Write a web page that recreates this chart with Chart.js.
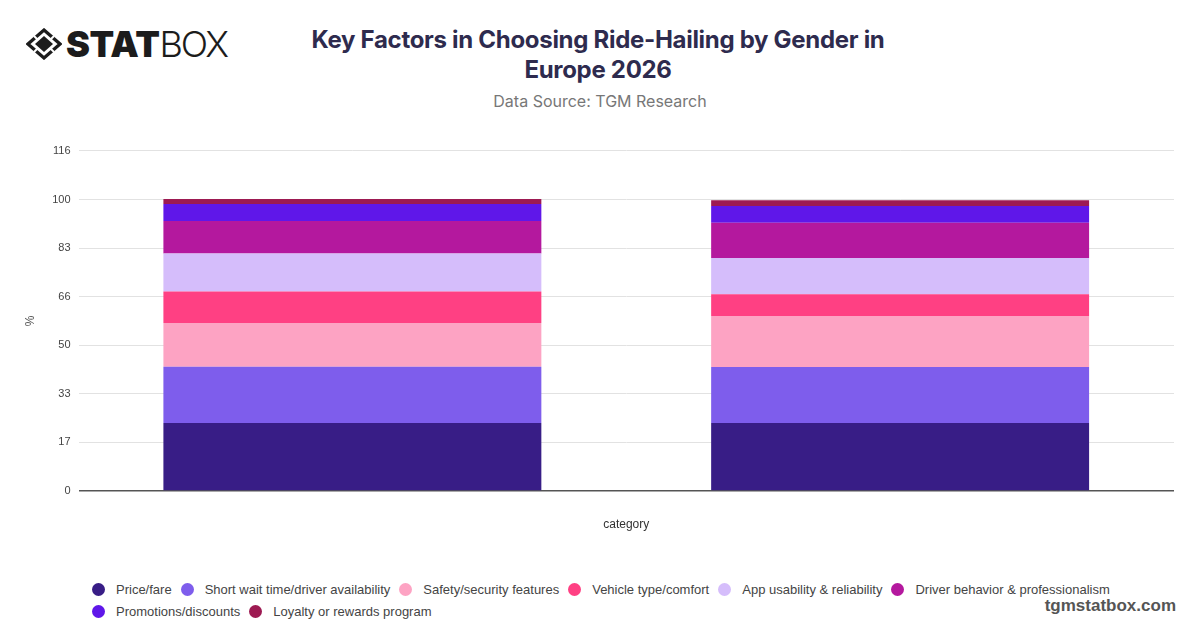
<!DOCTYPE html>
<html>
<head>
<meta charset="utf-8">
<script src="https://cdn.jsdelivr.net/npm/chart.js@4"></script>
<style>
  html, body { margin: 0; padding: 0; background: #fff; }
  body { width: 1200px; height: 628px; position: relative; overflow: hidden; font-family: 'Liberation Sans', Arial, sans-serif; }
  #logo { position: absolute; left: 26px; top: 22px; display: flex; align-items: center; }
  #logo .stat { font-family: Inter, sans-serif; font-weight: 900; font-size: 36px; color: #1c1c1c; margin-left: 4px; letter-spacing: -0.5px; }
  #logo .box { font-family: Inter, sans-serif; font-weight: 300; font-size: 36px; color: #1c1c1c; letter-spacing: -2px; }
  #title { position: absolute; left: 0; top: 25px; width: 1196px; text-align: center; font-family: Inter, sans-serif; font-weight: 700; font-size: 24px; line-height: 30px; color: #2e2b4e; letter-spacing: -0.3px; }
  #subtitle { position: absolute; left: 0; top: 91px; width: 1200px; text-align: center; font-family: Inter, sans-serif; font-size: 16px; color: #777; }
  #chartWrap { position: absolute; left: 0; top: 130px; width: 1200px; height: 415px; }
  #legend { position: absolute; left: 92px; top: 581px; width: 1040px; display: flex; flex-wrap: wrap; row-gap: 6px; }
  #legend .item { display: flex; align-items: center; margin-right: 9px; font-size: 13px; color: #444; height: 16px; }
  #legend .dot { width: 13px; height: 13px; border-radius: 50%; margin-right: 11px; }
  #brand { position: absolute; right: 24px; top: 596px; font-weight: 700; font-size: 17px; color: #555; }
</style>
</head>
<body>
<div id="logo">
  <svg width="36" height="32" viewBox="0 0 36 32">
    <polygon points="18,2 34,16 18,30 2,16" fill="none" stroke="#1c1c1c" stroke-width="3.2" stroke-linejoin="miter"/>
    <polygon points="18,8 27,16 18,24 9,16" fill="#1c1c1c"/>
    <line x1="8" y1="8" x2="12" y2="12" stroke="#fff" stroke-width="2"/>
    <line x1="28" y1="8" x2="24" y2="12" stroke="#fff" stroke-width="2"/>
    <line x1="8" y1="24" x2="12" y2="20" stroke="#fff" stroke-width="2"/>
    <line x1="28" y1="24" x2="24" y2="20" stroke="#fff" stroke-width="2"/>
  </svg>
  <span class="stat">STAT</span><span class="box">BOX</span>
</div>
<div id="title">Key Factors in Choosing Ride-Hailing by Gender in<br>Europe 2026</div>
<div id="subtitle">Data Source: TGM Research</div>
<div id="chartWrap"><canvas id="chart"></canvas></div>
<div id="legend"></div>
<div id="brand">tgmstatbox.com</div>

<script>
// categories (tick labels are hidden in the original)
const categories = ['Male', 'Female'];

// factor names and colours, bottom of the stack first
const factors = [
    'Price/fare',
    'Short wait time/driver availability',
    'Safety/security features',
    'Vehicle type/comfort',
    'App usability & reliability',
    'Driver behavior & professionalism',
    'Promotions/discounts',
    'Loyalty or rewards program'
];
const factorColors = ['#381d86', '#7e5dec', '#fda3c3', '#ff4083', '#d5bdfb', '#b4189e', '#5f17e9', '#9d1a52'];

// share (%) per factor, [Male, Female]
const priceFare   = [23.2, 23.2];
const waitTime    = [19.3, 19.2];
const safety      = [14.9, 17.4];
const vehicle     = [10.8, 7.4];
const appUsage    = [13.0, 12.4];
const driver      = [11.1, 12.1];
const promotions  = [5.8, 5.7];
const loyalty     = [1.7, 2.0];

const seriesValues = [priceFare, waitTime, safety, vehicle, appUsage, driver, promotions, loyalty];

// y axis: 7 equal steps, labels rounded
const yMax = 116.2;
const ySteps = 7;

const datasets = factors.map(function(name, i) {
    return {
        label: name,
        data: seriesValues[i],
        backgroundColor: factorColors[i],
        borderWidth: 0,
        categoryPercentage: 1,
        barPercentage: 0.69
    };
});

const chart = new Chart(document.getElementById('chart'), {
    type: 'bar',
    data: { labels: categories, datasets: datasets },
    options: {
        responsive: true,
        maintainAspectRatio: false,
        animation: false,
        layout: { padding: { left: 20, right: 26, top: 21, bottom: 13.6 } },
        plugins: {
            legend: { display: false },
            tooltip: { enabled: true }
        },
        scales: {
            x: {
                stacked: true,
                grid: { display: false },
                border: { display: false },
                ticks: { display: false },
                title: {
                    display: true,
                    text: 'category',
                    color: '#333',
                    font: { family: "'Liberation Sans', Arial, sans-serif", size: 12 },
                    padding: { top: 18, bottom: 0 }
                }
            },
            y: {
                stacked: true,
                min: 0,
                max: yMax,
                afterBuildTicks: function(scale) {
                    const t = [];
                    for (let i = 0; i <= ySteps; i++) t.push({ value: yMax / ySteps * i });
                    scale.ticks = t;
                },
                afterFit: function(scale) { scale.width = 58.5; },
                grid: {
                    drawTicks: false,
                    color: function(ctx) { return ctx.tick && ctx.tick.value === 0 ? '#555' : '#e2e2e2'; },
                    lineWidth: function(ctx) { return ctx.tick && ctx.tick.value === 0 ? 1.5 : 1; }
                },
                border: { display: false },
                ticks: {
                    padding: 8,
                    color: '#444',
                    font: { family: "'Liberation Sans', Arial, sans-serif", size: 11 },
                    callback: function(v) { return Math.round(v); }
                },
                title: {
                    display: true,
                    text: '%',
                    color: '#555',
                    font: { family: "'Liberation Sans', Arial, sans-serif", size: 12 },
                    padding: 3
                }
            }
        }
    }
});

// html legend so it can start where the original one does
const legendEl = document.getElementById('legend');
chart.data.datasets.forEach(function(ds) {
    const item = document.createElement('div');
    item.className = 'item';
    const dot = document.createElement('span');
    dot.className = 'dot';
    dot.style.background = ds.backgroundColor;
    item.appendChild(dot);
    item.appendChild(document.createTextNode(ds.label));
    legendEl.appendChild(item);
});
</script>
</body>
</html>
